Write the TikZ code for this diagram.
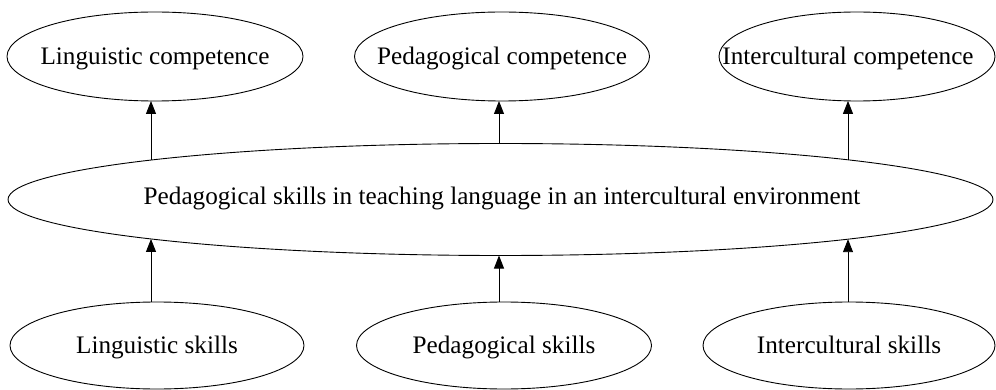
\documentclass[tikz,border=0pt]{standalone}
\usepackage{fontspec}
\setmainfont{Liberation Serif}
\usetikzlibrary{shapes.geometric,arrows.meta,calc}
\begin{document}
\begin{tikzpicture}[x=1pt,y=-1pt,
  ell/.style={ellipse,draw,line width=0.9pt,inner sep=0pt,outer sep=0pt},
  txt/.style={font=\fontsize{25.2}{30}\selectfont,text height=16.5pt,text depth=0pt,inner sep=0pt},
  arr/.style={-{Triangle[length=13pt,width=10pt]},line width=0.9pt}]
\useasboundingbox (0,0) rectangle (996,390);
% top row
\node[ell,minimum width=296pt,minimum height=89pt,label={[txt]center:Linguistic competence}] (tl) at (155,56.5) {};
\node[ell,minimum width=295pt,minimum height=89pt,label={[txt]center:Pedagogical competence}] (tm) at (502,56.5) {};
\node[ell,minimum width=276pt,minimum height=89pt,label={[txt,xshift=-9pt]center:Intercultural competence}] (tr) at (857,56.5) {};
% middle
\node[ell,minimum width=985pt,minimum height=112pt,label={[txt,xshift=1.5pt,yshift=3pt]center:Pedagogical skills in teaching language in an intercultural environment}] (big) at (500.5,199.5) {};
% bottom row
\node[ell,minimum width=294pt,minimum height=87pt,label={[txt]center:Linguistic skills}] (bl) at (157,345.5) {};
\node[ell,minimum width=295pt,minimum height=87pt,label={[txt]center:Pedagogical skills}] (bm) at (504,345.5) {};
\node[ell,minimum width=292pt,minimum height=87pt,label={[txt]center:Intercultural skills}] (br) at (849,345.5) {};
% connectors
\draw[arr] ($(big.center)+(-349.5,-39.46)$) -- ($(tl.center)+(-4,44.47)$);
\draw[arr] ($(big.center)+(-1.5,-56)$) -- ($(tm.center)+(-3,44.5)$);
\draw[arr] ($(big.center)+(347.5,-39.68)$) -- ($(tr.center)+(-9,44.4)$);
\draw[arr] ($(bl.center)+(-6,-43.46)$) -- ($(big.center)+(-349.5,39.46)$);
\draw[arr] ($(bm.center)+(-5,-43.47)$) -- ($(big.center)+(-1.5,56)$);
\draw[arr] ($(br.center)+(-1,-43.5)$) -- ($(big.center)+(347.5,39.68)$);
\end{tikzpicture}
\end{document}
